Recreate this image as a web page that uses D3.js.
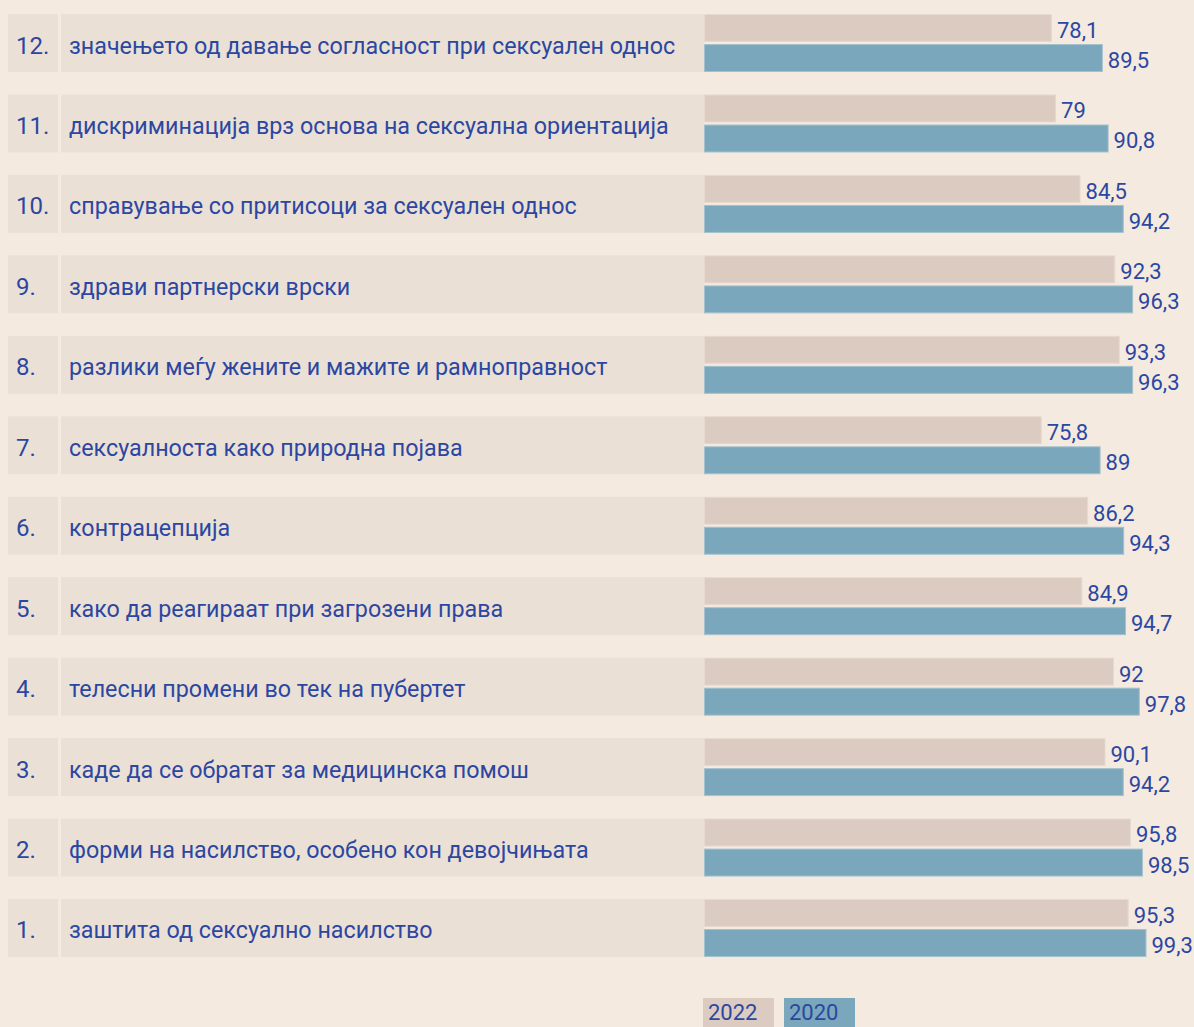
<!DOCTYPE html>
<html>
<head>
<meta charset="utf-8">
<script src="https://cdn.jsdelivr.net/npm/d3@7"></script>
<style>
  html, body { margin: 0; padding: 0; background: #f4eae0; }
  svg { display: block; }
  text { font-family: Roboto, "Noto Sans", sans-serif; fill: #2c47a1; }
</style>
</head>
<body>
<script>
var width = 1194,
    height = 1027;

// rows from top to bottom
var numbers = ['12.', '11.', '10.', '9.', '8.', '7.', '6.', '5.', '4.', '3.', '2.', '1.'];
var topics = [
  'значењето од давање согласност при сексуален однос',
  'дискриминација врз основа на сексуална ориентација',
  'справување со притисоци за сексуален однос',
  'здрави партнерски врски',
  'разлики меѓу жените и мажите и рамноправност',
  'сексуалноста како природна појава',
  'контрацепција',
  'како да реагираат при загрозени права',
  'телесни промени во тек на пубертет',
  'каде да се обратат за медицинска помош',
  'форми на насилство, особено кон девојчињата',
  'заштита од сексуално насилство'
];
var values2022 = [78.1, 79, 84.5, 92.3, 93.3, 75.8, 86.2, 84.9, 92, 90.1, 95.8, 95.3];
var values2020 = [89.5, 90.8, 94.2, 96.3, 96.3, 89, 94.3, 94.7, 97.8, 94.2, 98.5, 99.3];
var years = ['2022', '2020'];

var colors = { '2022': '#dccbc0', '2020': '#7aa7bb' };
var strokes = { '2022': '#e6d9cf', '2020': '#a3c1cd' };

var svg = d3.select('body').append('svg')
  .attr('width', width)
  .attr('height', height);

var y = d3.scaleBand()
  .domain(topics)
  .range([14, 957])
  .paddingInner(0.279)
  .paddingOuter(0);

var ySub = d3.scaleBand()
  .domain(years)
  .range([0, y.bandwidth()])
  .paddingInner(0.07);

var x = d3.scaleLinear()
  .domain([0, 100])
  .range([704, 1149.6]);

var rows = svg.selectAll('g.row')
  .data(topics)
  .enter()
  .append('g')
  .attr('class', 'row')
  .attr('transform', function(d) { return 'translate(0,' + y(d) + ')'; });

// background cells: number cell + label cell
rows.append('rect')
  .attr('x', 8)
  .attr('width', 50)
  .attr('height', y.bandwidth())
  .attr('fill', '#ebe0d6');

rows.append('rect')
  .attr('x', 61)
  .attr('width', 643)
  .attr('height', y.bandwidth())
  .attr('fill', '#ebe0d6');

rows.append('text')
  .attr('x', 16)
  .attr('y', 39.5)
  .attr('font-size', '24px')
  .text(function(d, i) { return numbers[i]; });

rows.append('text')
  .attr('x', 69)
  .attr('y', 39.5)
  .attr('font-size', '23.3px')
  .text(function(d) { return d; });

// bars
rows.each(function(d, i) {
  var g = d3.select(this);
  var vals = [
    { year: '2022', v: values2022[i] },
    { year: '2020', v: values2020[i] }
  ];

  g.selectAll('rect.bar')
    .data(vals)
    .enter()
    .append('rect')
    .attr('class', 'bar')
    .attr('x', x(0) + 0.5)
    .attr('y', function(e) { return ySub(e.year) + 0.5; })
    .attr('width', function(e) { return x(e.v) - x(0) - 1; })
    .attr('height', ySub.bandwidth() - 1)
    .attr('fill', function(e) { return colors[e.year]; })
    .attr('stroke', function(e) { return strokes[e.year]; })
    .attr('stroke-width', 1);

  g.selectAll('text.val')
    .data(vals)
    .enter()
    .append('text')
    .attr('class', 'val')
    .attr('x', function(e) { return x(e.v) + 5; })
    .attr('y', function(e) { return ySub(e.year) + ySub.bandwidth() - 4; })
    .attr('font-size', '22px')
    .text(function(e) { return String(e.v).replace('.', ','); });
});

// legend
var legend = svg.selectAll('g.legend')
  .data(years)
  .enter()
  .append('g')
  .attr('class', 'legend')
  .attr('transform', function(d, i) { return 'translate(' + (703 + i * 81) + ',998)'; });

legend.append('rect')
  .attr('width', 71)
  .attr('height', 29)
  .attr('fill', function(d) { return colors[d]; });

legend.append('text')
  .attr('x', 5)
  .attr('y', 22)
  .attr('font-size', '22px')
  .text(function(d) { return d; });
</script>
</body>
</html>
